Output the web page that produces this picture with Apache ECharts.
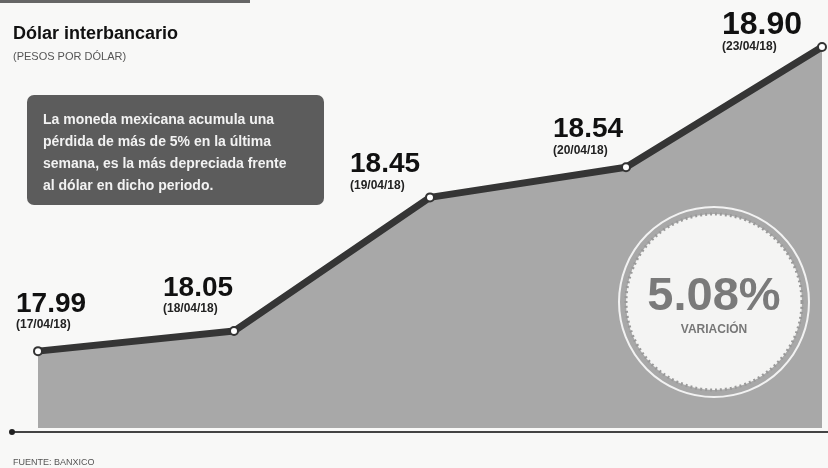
<!DOCTYPE html>
<html><head><meta charset="utf-8">
<script src="https://cdn.jsdelivr.net/npm/echarts@6/dist/echarts.min.js"></script>
<style>html,body{margin:0;padding:0;background:#f8f8f7;}#c{width:828px;height:468px;}</style>
</head><body><div id="c"></div>
<script>
const dates = ['17/04/18', '18/04/18', '19/04/18', '20/04/18', '23/04/18'];
const values = [17.99, 18.05, 18.45, 18.54, 18.90];
const variation = '5.08%';
const labelOffsets = [[-22, -9], [-71, -5], [-80, 5], [-73, 0], [-100, 17]];

const chart = echarts.init(document.getElementById('c'));
const data = values.map((v, i) => ({
  value: v,
  label: {
    offset: labelOffsets[i],
    rich: i === values.length - 1 ? { v: { fontSize: 32, lineHeight: 30 } } : {}
  }
}));
chart.setOption({
  backgroundColor: '#f8f8f7',
  animation: false,
  grid: { left: 38, right: 6, top: 47, bottom: 40 },
  xAxis: { type: 'category', data: dates, boundaryGap: false, show: false },
  yAxis: { type: 'value', min: 17.76, max: 18.90, show: false },
  title: [
    { text: 'Dólar interbancario', left: 13, top: 25, padding: 0,
      textStyle: { fontFamily: 'Liberation Sans', fontWeight: 'bold', fontSize: 18, color: '#111' } },
    { text: '(PESOS POR DÓLAR)', left: 13, top: 51, padding: 0,
      textStyle: { fontFamily: 'Liberation Sans', fontWeight: 'normal', fontSize: 11, color: '#555' } },
    { text: 'FUENTE: BANXICO', left: 13, top: 458, padding: 0,
      textStyle: { fontFamily: 'Liberation Sans', fontWeight: 'normal', fontSize: 9, color: '#555' } }
  ],
  graphic: [
    { type: 'rect', left: 0, top: 0, shape: { width: 250, height: 3 }, style: { fill: '#666' }, z: 1 },
    { type: 'line', shape: { x1: 12, y1: 432, x2: 828, y2: 432 }, style: { stroke: '#444', lineWidth: 2 }, z: 1 },
    { type: 'circle', shape: { cx: 12, cy: 432, r: 3 }, style: { fill: '#222' }, z: 1 },
    { type: 'rect', shape: { x: 27, y: 95, width: 297, height: 110, r: 7 },
      style: { fill: '#5c5c5c' }, z: 5 },
    { type: 'text', left: 43, top: 109, z: 6,
      style: { text: 'La moneda mexicana acumula una\npérdida de más de 5% en la última\nsemana, es la más depreciada frente\nal dólar en dicho periodo.',
        fill: '#f2f2f2', font: 'bold 14px "Liberation Sans"', lineHeight: 22 } },
    { type: 'circle', shape: { cx: 714, cy: 302, r: 95 }, style: { fill: 'none', stroke: '#f2f2f2', lineWidth: 2 }, z: 5 },
    { type: 'circle', shape: { cx: 714, cy: 302, r: 88 }, style: { fill: '#f4f4f3', stroke: '#9a9a9a', lineWidth: 3, lineDash: [2, 3] }, z: 5 },
    { type: 'text', x: 714, y: 297, z: 6,
      style: { text: variation, fill: '#7a7a7a', font: 'bold 47px "Liberation Sans"', align: 'center', verticalAlign: 'middle' } },
    { type: 'text', x: 714, y: 330, z: 6,
      style: { text: 'VARIACIÓN', fill: '#777', font: 'bold 12px "Liberation Sans"', align: 'center', verticalAlign: 'middle' } }
  ],
  series: [{
    type: 'line',
    data: data,
    lineStyle: { color: '#353535', width: 7 },
    areaStyle: { color: '#a8a8a8', opacity: 1 },
    symbol: 'circle',
    symbolSize: 8,
    itemStyle: { color: '#fff', borderColor: '#333', borderWidth: 2 },
    z: 3,
    label: {
      show: true,
      position: 'top',
      align: 'left',
      verticalAlign: 'bottom',
      formatter: p => '{v|' + p.value.toFixed(2) + '}\n{d|(' + p.name + ')}',
      rich: {
        v: { fontFamily: 'Liberation Sans', fontWeight: 'bold', fontSize: 28, lineHeight: 28, color: '#111' },
        d: { fontFamily: 'Liberation Sans', fontWeight: 'bold', fontSize: 12, lineHeight: 14, color: '#222' }
      }
    }
  }]
});
</script></body></html>
